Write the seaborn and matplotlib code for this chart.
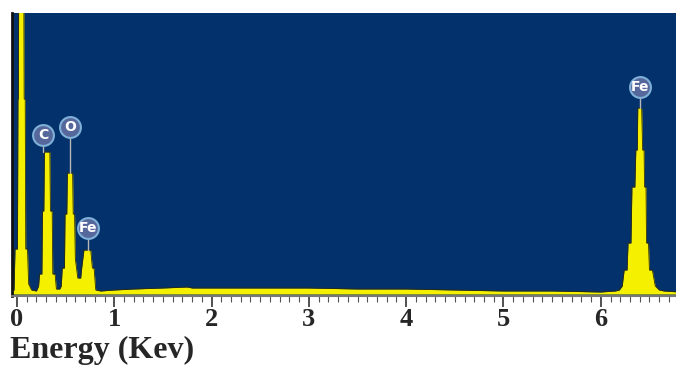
import matplotlib
matplotlib.use("Agg")
import matplotlib.pyplot as plt
import seaborn as sns
import pandas as pd
from matplotlib.ticker import MultipleLocator

sns.set_theme(style="white")
plt.rcParams['font.family'] = ['Liberation Serif', 'DejaVu Serif']

# EDS spectrum (energy in keV, counts in arbitrary units)
energy = [-0.08, -0.03, -0.02, 0.005, 0.01, 0.014, 0.018, 0.07, 0.074, 0.085, 0.09, 0.108, 0.12, 0.15,
          0.20, 0.222, 0.232, 0.256, 0.262, 0.276, 0.282, 0.338, 0.344, 0.362, 0.368, 0.392, 0.405, 0.44,
          0.455, 0.465, 0.488, 0.494, 0.512, 0.518, 0.572, 0.578, 0.592, 0.60, 0.625, 0.655, 0.665, 0.688,
          0.758, 0.775, 0.792, 0.81, 0.86, 1.0, 1.2, 1.5, 1.75, 1.8, 2.0, 2.5, 3.0, 3.5, 4.0, 4.5,
          5.0, 5.5, 6.0, 6.15, 6.19, 6.22, 6.24, 6.27, 6.28, 6.31, 6.32, 6.35, 6.36, 6.375, 6.38,
          6.42, 6.43, 6.445, 6.45, 6.465, 6.47, 6.49, 6.50, 6.53, 6.56, 6.60, 6.65, 6.8]
counts = [0, 4, 45, 45, 195, 195, 320, 320, 195, 195, 45, 45, 10, 4,
          3, 8, 20, 20, 83, 83, 142, 142, 83, 83, 20, 20, 5, 5,
          8, 26, 26, 80, 80, 121, 121, 80, 80, 35, 16, 16, 26, 44,
          44, 26, 26, 4, 3, 4, 5, 6, 7, 6, 6, 6, 6, 5, 5, 4,
          3, 3, 2, 3, 4, 8, 24, 24, 51, 51, 107, 107, 144, 144, 186,
          186, 144, 144, 107, 107, 51, 51, 24, 24, 8, 4, 3, 2]

# element markers
elements = ["C", "O", "Fe", "Fe"]
element_energy = [0.269, 0.543, 0.735, 6.408]
element_peak = [142, 121, 44, 186]
element_label_y = [159, 167, 66, 207]

df = pd.DataFrame({'energy': energy, 'counts': counts})

fig = plt.figure(figsize=(6.76, 3.67), dpi=100)
ax = fig.add_axes([12 / 676, 1 - 296 / 367, 1 - 12 / 676, (296 - 13) / 367])
ax.set_facecolor('#03316b')

ax.fill_between(df['energy'], 0, df['counts'], color='#f5f000', linewidth=0, zorder=2)
sns.lineplot(data=df, x='energy', y='counts', color='#2b2b10', linewidth=0.6, ax=ax, zorder=3, sort=False)

for name, ex, pk, ly in zip(elements, element_energy, element_peak, element_label_y):
    ax.plot([ex, ex], [pk, ly - 10], color='#b8b8b8', linewidth=1, zorder=4)
    ax.plot(ex, ly, 'o', markersize=15, markerfacecolor='#56679c', markeredgecolor='#7fb0d8',
            markeredgewidth=1.5, zorder=5)
    ax.text(ex, ly, name, color='white', fontsize=10, fontweight='bold', family='DejaVu Sans',
            ha='center', va='center', zorder=6)

ax.set_xlim(-0.051, 6.773)
ax.set_ylim(-2, 281)
ax.set_xlabel('')
ax.set_ylabel('')
ax.set_yticks([])
ax.xaxis.set_major_locator(MultipleLocator(1))
ax.xaxis.set_minor_locator(MultipleLocator(0.1))
ax.tick_params(axis='x', which='major', bottom=True, length=8, width=1.2, color='#333333',
               labelsize=19, pad=1)
ax.tick_params(axis='x', which='minor', bottom=True, length=4, width=0.8, color='#555555')
for lab in ax.get_xticklabels():
    lab.set_fontweight('bold')
for side in ['top', 'right']:
    ax.spines[side].set_visible(False)
ax.spines['left'].set_color('#111111')
ax.spines['left'].set_linewidth(2)
ax.spines['bottom'].set_color('#777777')
ax.spines['bottom'].set_linewidth(1.5)

fig.text(10 / 676, 1 - 358 / 367, 'Energy (Kev)', fontsize=23, fontweight='bold',
         ha='left', va='baseline')

fig.savefig('out.png', dpi=100)
